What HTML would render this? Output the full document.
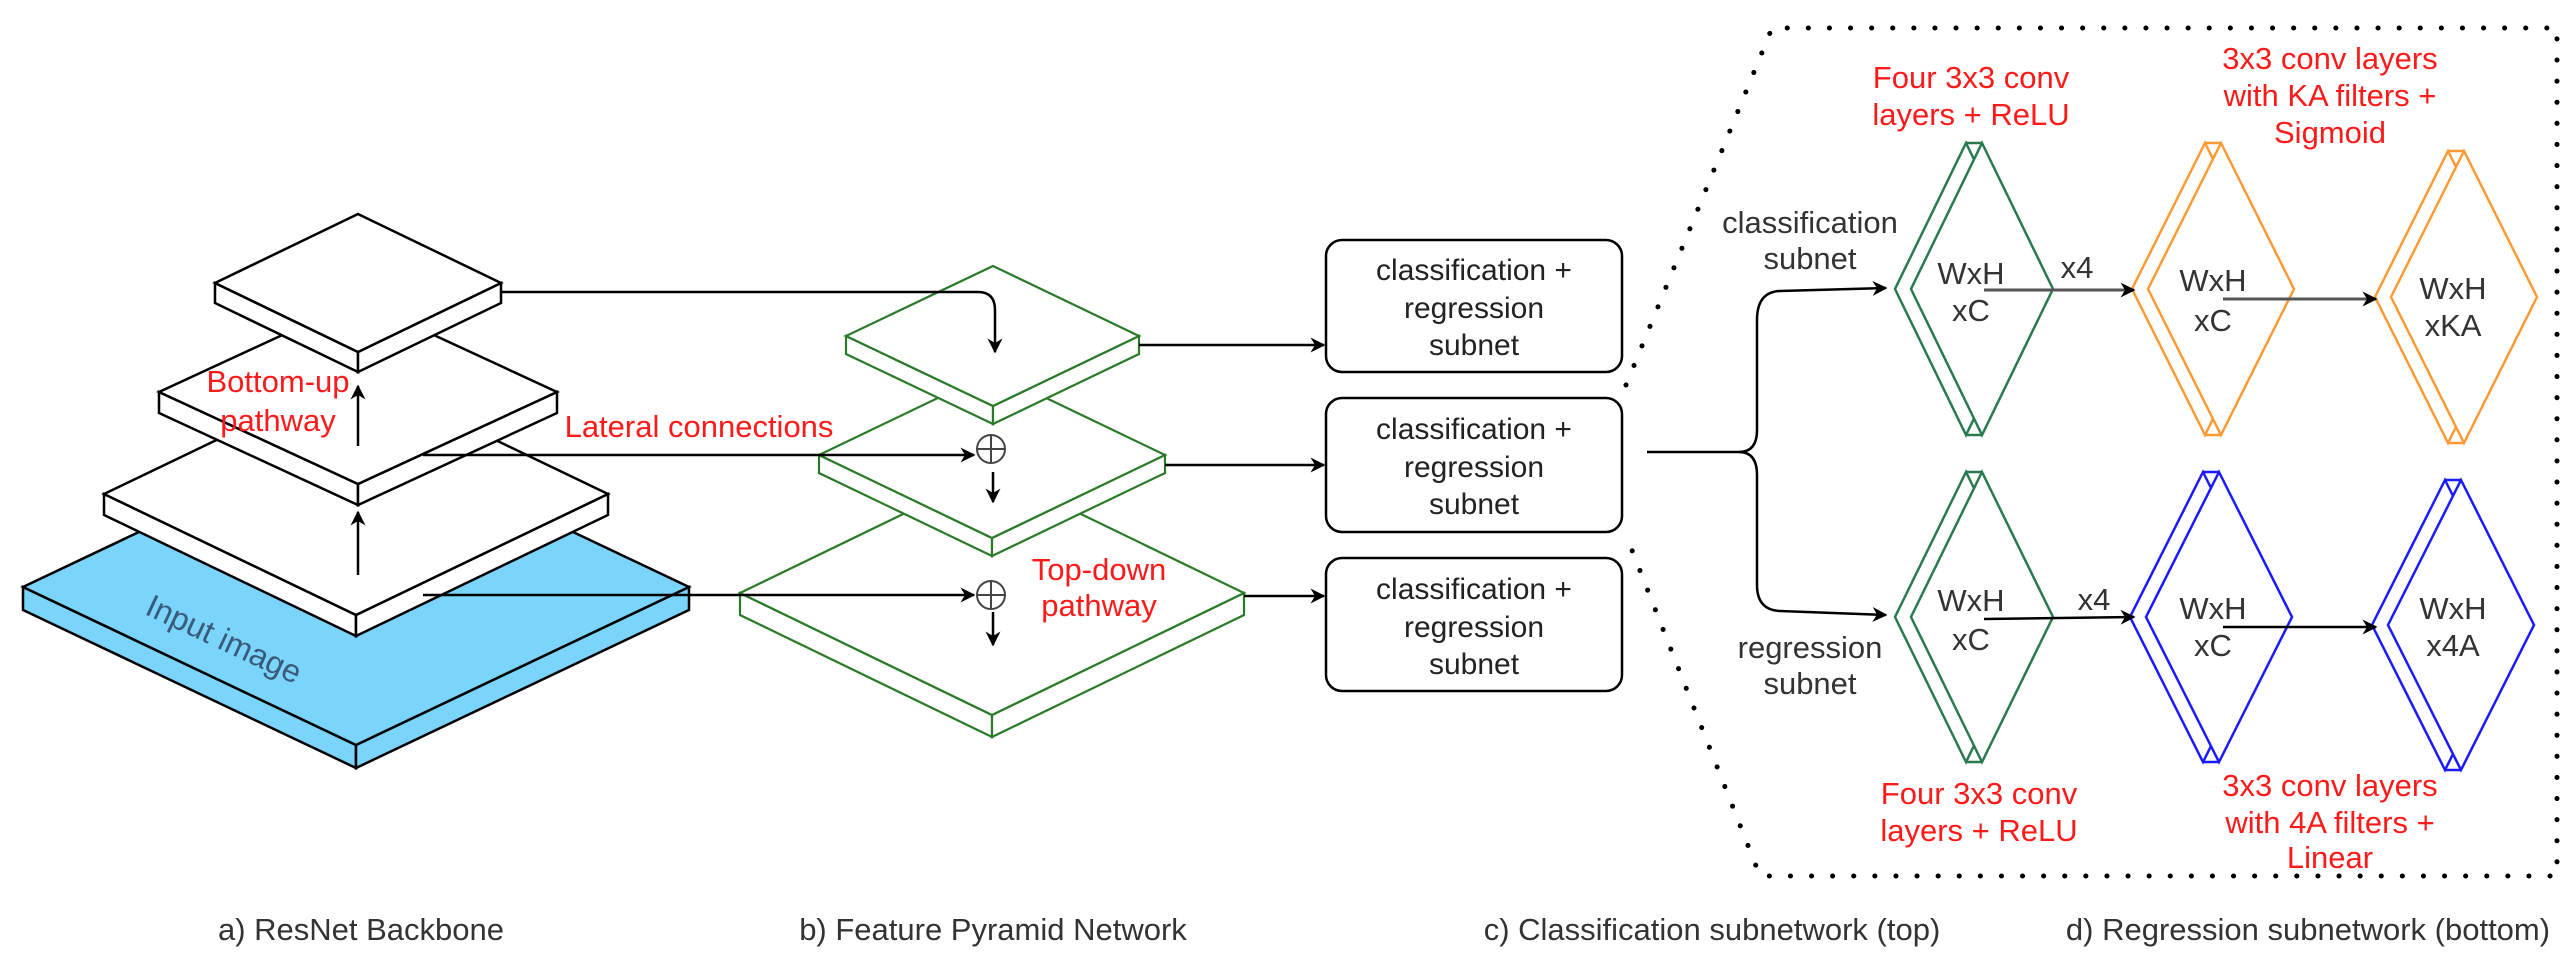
<!DOCTYPE html>
<html><head><meta charset="utf-8"><style>
html,body{margin:0;padding:0;background:#fff;}
svg{display:block;font-family:"Liberation Sans",sans-serif;}
</style></head><body>
<svg width="2574" height="964" viewBox="0 0 2574 964" xmlns="http://www.w3.org/2000/svg">
<defs>
<marker id="ah" viewBox="0 0 10 10" refX="9" refY="5" markerWidth="6" markerHeight="6" orient="auto"><path d="M0,0 L10,5 L0,10 L3,5 z" fill="#000"/></marker>
<marker id="ahg" viewBox="0 0 10 10" refX="9" refY="5" markerWidth="5" markerHeight="5" orient="auto"><path d="M0,0 L10,5 L0,10 L3,5 z" fill="#000"/></marker>
</defs>
<g stroke-linejoin="miter">
<g stroke="#000" stroke-width="2.5">
<polygon points="23,587 356,745 356,768 23,610" fill="#7ad4fc"/>
<polygon points="689,587 356,745 356,768 689,610" fill="#7ad4fc"/>
<polygon points="356,429 689,587 356,745 23,587" fill="#7ad4fc"/>
</g>
<text x="224" y="650" transform="rotate(25 224 639)" text-anchor="middle" font-size="32" fill="#3a5a7a">Input image</text>
<g stroke="#000" stroke-width="2.5" fill="#fff">
<polygon points="104,494 356,615 356,636 104,515"/>
<polygon points="608,494 356,615 356,636 608,515"/>
<polygon points="356,373 608,494 356,615 104,494"/>
<polygon points="159,392 358,484 358,505 159,413"/>
<polygon points="557,392 358,484 358,505 557,413"/>
<polygon points="358,300 557,392 358,484 159,392"/>
<polygon points="215,283 358,352 358,372 215,303"/>
<polygon points="501,283 358,352 358,372 501,303"/>
<polygon points="358,214 501,283 358,352 215,283"/>
</g>
<g stroke="#2a7a2a" stroke-width="2.2" fill="#fff">
<polygon points="740,593 992,715 992,737 740,615"/>
<polygon points="1244,593 992,715 992,737 1244,615"/>
<polygon points="992,471 1244,593 992,715 740,593"/>
<polygon points="819,455 992,538 992,556 819,473"/>
<polygon points="1165,455 992,538 992,556 1165,473"/>
<polygon points="992,372 1165,455 992,538 819,455"/>
<polygon points="846,336 993,406 993,424 846,354"/>
<polygon points="1139,336 993,406 993,424 1139,354"/>
<polygon points="993,266 1139,336 993,406 846,336"/>
</g>
</g>
<g stroke="#000" stroke-width="2.5" fill="none">
<line x1="358" y1="575" x2="358" y2="512" marker-end="url(#ah)"/>
<line x1="358" y1="446" x2="358" y2="386" marker-end="url(#ah)"/>
<path d="M502,292 L978,292 Q995,292 995,310 L995,352" marker-end="url(#ah)"/>
<line x1="423" y1="455" x2="974" y2="455" marker-end="url(#ah)"/>
<line x1="423" y1="595" x2="974" y2="595" marker-end="url(#ah)"/>
<line x1="993" y1="472" x2="993" y2="502" marker-end="url(#ah)"/>
<line x1="993" y1="612" x2="993" y2="645" marker-end="url(#ah)"/>
<line x1="1139" y1="345" x2="1324" y2="345" marker-end="url(#ah)"/>
<line x1="1165" y1="465" x2="1324" y2="465" marker-end="url(#ah)"/>
<line x1="1244" y1="596" x2="1324" y2="596" marker-end="url(#ah)"/>
</g>
<g stroke="#444" stroke-width="2" fill="#fff">
<circle cx="991" cy="449" r="14"/><line x1="977" y1="449" x2="1005" y2="449"/><line x1="991" y1="435" x2="991" y2="463"/>
<circle cx="991" cy="595" r="14"/><line x1="977" y1="595" x2="1005" y2="595"/><line x1="991" y1="581" x2="991" y2="609"/>
</g>
<g fill="#ff1a1a" font-size="31" text-anchor="middle">
<text x="278" y="392">Bottom-up</text><text x="278" y="431">pathway</text>
<text x="699" y="437">Lateral connections</text>
<text x="1099" y="580">Top-down</text><text x="1099" y="616">pathway</text>
</g>
<g stroke="#000" stroke-width="2.5" fill="#fff">
<rect x="1326" y="240" width="296" height="132" rx="16"/>
<rect x="1326" y="398" width="296" height="134" rx="16"/>
<rect x="1326" y="558" width="296" height="133" rx="16"/>
</g>
<g font-size="30" fill="#222" text-anchor="middle">
<text x="1474" y="280">classification +</text><text x="1474" y="318">regression</text><text x="1474" y="355">subnet</text>
<text x="1474" y="439">classification +</text><text x="1474" y="477">regression</text><text x="1474" y="514">subnet</text>
<text x="1474" y="599">classification +</text><text x="1474" y="637">regression</text><text x="1474" y="674">subnet</text>
</g>
<path d="M1626,385 L1772,28 L2557,28 L2557,876 L1760,876 L1626,535" fill="none" stroke="#000" stroke-width="5" stroke-linecap="round" stroke-dasharray="0.1 21"/>
<g stroke="#000" stroke-width="2.5" fill="none">
<path d="M1647,452 L1739,452 Q1757,452 1757,430 L1757,320 Q1757,292 1780,291 L1886,288" marker-end="url(#ah)"/>
<path d="M1739,452 Q1757,452 1757,475 L1757,585 Q1757,610 1780,611 L1886,615" marker-end="url(#ah)"/>
</g>
<g font-size="31" fill="#333" text-anchor="middle">
<text x="1810" y="233">classification</text><text x="1810" y="269">subnet</text>
<text x="1810" y="658">regression</text><text x="1810" y="694">subnet</text>
</g>
<g stroke-width="2.5" fill="#fff">
<g stroke="#2a7a50">
<polygon points="1966,143 2037,289 1966,435 1895,289"/>
<line x1="1966" y1="143" x2="1982" y2="143"/><line x1="1966" y1="435" x2="1982" y2="435"/>
<polygon points="1982,143 2053,289 1982,435 1911,289"/>
<polygon points="1966,472 2037,617 1966,762 1895,617"/>
<line x1="1966" y1="472" x2="1982" y2="472"/><line x1="1966" y1="762" x2="1982" y2="762"/>
<polygon points="1982,472 2053,617 1982,762 1911,617"/>
</g>
<g stroke="#ff9a33">
<polygon points="2205,143 2278,289 2205,435 2132,289"/>
<line x1="2205" y1="143" x2="2221" y2="143"/><line x1="2205" y1="435" x2="2221" y2="435"/>
<polygon points="2221,143 2294,289 2221,435 2148,289"/>
<polygon points="2448,151 2521,297 2448,443 2375,297"/>
<line x1="2448" y1="151" x2="2464" y2="151"/><line x1="2448" y1="443" x2="2464" y2="443"/>
<polygon points="2464,151 2537,297 2464,443 2391,297"/>
</g>
<g stroke="#1a1aff">
<polygon points="2203,472 2276,617 2203,762 2130,617"/>
<line x1="2203" y1="472" x2="2219" y2="472"/><line x1="2203" y1="762" x2="2219" y2="762"/>
<polygon points="2219,472 2292,617 2219,762 2146,617"/>
<polygon points="2445,480 2518,625 2445,770 2372,625"/>
<line x1="2445" y1="480" x2="2461" y2="480"/><line x1="2445" y1="770" x2="2461" y2="770"/>
<polygon points="2461,480 2534,625 2461,770 2388,625"/>
</g>
</g>
<g font-size="31" fill="#333" text-anchor="middle">
<text x="1971" y="284">WxH</text><text x="1971" y="321">xC</text>
<text x="2213" y="291">WxH</text><text x="2213" y="331">xC</text>
<text x="2453" y="299">WxH</text><text x="2453" y="336">xKA</text>
<text x="1971" y="611">WxH</text><text x="1971" y="650">xC</text>
<text x="2213" y="619">WxH</text><text x="2213" y="656">xC</text>
<text x="2453" y="619">WxH</text><text x="2453" y="656">x4A</text>
<text x="2077" y="278">x4</text><text x="2094" y="610">x4</text>
</g>
<g stroke-width="3" fill="none">
<line x1="1984" y1="290" x2="2134" y2="290" stroke="#555" marker-end="url(#ahg)"/>
<line x1="2223" y1="299" x2="2376" y2="299" stroke="#555" marker-end="url(#ahg)"/>
<line x1="1984" y1="619" x2="2134" y2="617" stroke="#000" stroke-width="2.5" marker-end="url(#ah)"/>
<line x1="2223" y1="627" x2="2376" y2="627" stroke="#000" stroke-width="2.5" marker-end="url(#ah)"/>
</g>
<g fill="#ff1a1a" font-size="31" text-anchor="middle">
<text x="1971" y="88">Four 3x3 conv</text><text x="1971" y="125">layers + ReLU</text>
<text x="2330" y="69">3x3 conv layers</text><text x="2330" y="106">with KA filters +</text><text x="2330" y="143">Sigmoid</text>
<text x="1979" y="804">Four 3x3 conv</text><text x="1979" y="841">layers + ReLU</text>
<text x="2330" y="796">3x3 conv layers</text><text x="2330" y="833">with 4A filters +</text><text x="2330" y="868">Linear</text>
</g>
<g font-size="31" fill="#333" text-anchor="middle">
<text x="361" y="940">a) ResNet Backbone</text>
<text x="993" y="940">b) Feature Pyramid Network</text>
<text x="1712" y="940">c) Classification subnetwork (top)</text>
<text x="2308" y="940">d) Regression subnetwork (bottom)</text>
</g>
</svg>
</body></html>
